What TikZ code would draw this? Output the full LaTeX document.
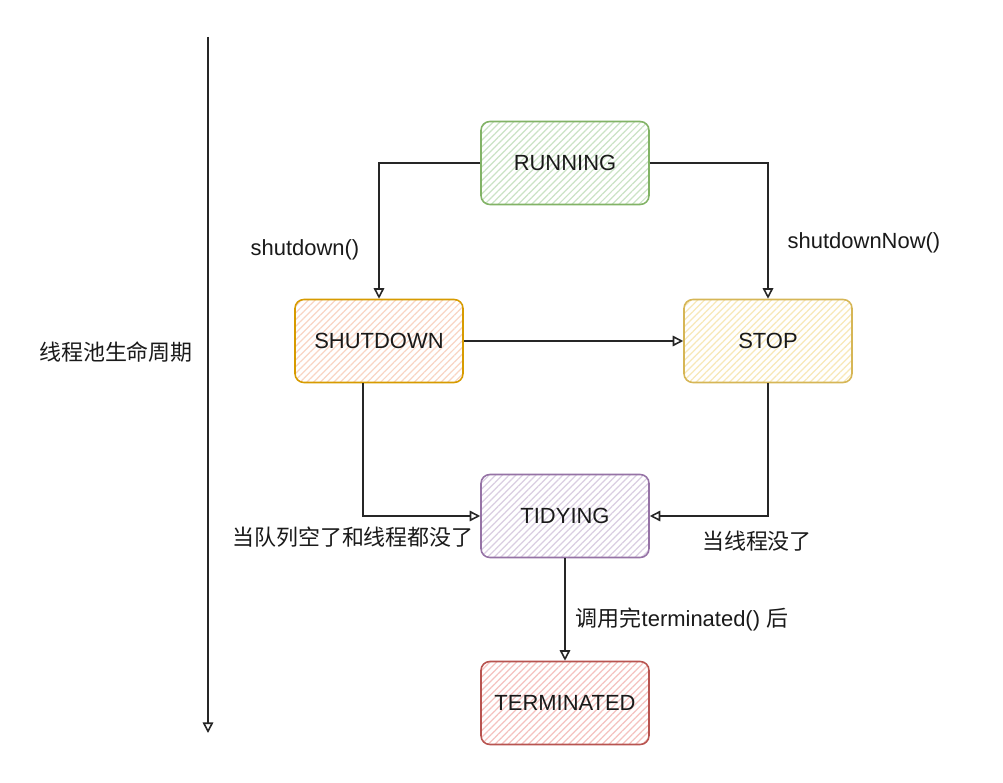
\documentclass[tikz,border=0pt]{standalone}
\usepackage{fontspec}
\setmainfont{Liberation Sans}
\newfontfamily\cjk{Noto Sans CJK SC}
\usetikzlibrary{arrows.meta,patterns.meta}
\definecolor{txt}{HTML}{1A1A1A}
\definecolor{wire}{HTML}{262626}
\definecolor{runline}{HTML}{82B366}
\definecolor{runhatch}{HTML}{CBE3C5}
\definecolor{shutline}{HTML}{D79B00}
\definecolor{shuthatch}{HTML}{F9D5C4}
\definecolor{stopline}{HTML}{D6B656}
\definecolor{stophatch}{HTML}{F8E8B8}
\definecolor{tidyline}{HTML}{9673A6}
\definecolor{tidyhatch}{HTML}{DACEE2}
\definecolor{termline}{HTML}{B85450}
\definecolor{termhatch}{HTML}{F5C2BF}

\begin{document}
\begin{tikzpicture}[x=0.02cm,y=-0.02cm,
  state/.style={shape=rectangle,rounded corners=5pt,line width=0.9pt,
    minimum width=3.36cm,minimum height=1.66cm,text=txt,
    font=\fontsize{12.5}{15}\selectfont,
    pattern={Lines[angle=45,distance=2.7pt,line width=0.7pt]}},
  flow/.style={draw=wire,line width=0.9pt,-{Triangle[open,length=6pt,width=6pt]}},
  lab/.style={text=txt,font=\fontsize{12.5}{15}\selectfont}]
\fill[white] (0,0) rectangle (1003,783);
\useasboundingbox (0,0) rectangle (1003,783);
\node[state,draw=runline,pattern color=runhatch] (R) at (565,163) {RUNNING};
\node[state,draw=shutline,pattern color=shuthatch] (S) at (379,341) {SHUTDOWN};
\node[state,draw=stopline,pattern color=stophatch] (P) at (768,341) {STOP};
\node[state,draw=tidyline,pattern color=tidyhatch] (T) at (565,516) {TIDYING};
\node[state,draw=termline,pattern color=termhatch] (X) at (565,703) {TERMINATED};
\coordinate (top) at (208,37);
\coordinate (bot) at (208,733);
\node[lab] (L) at (116,352) {\cjk 线程池生命周期};
\node[lab] (a) at (305,250) {shutdown()};
\node[lab] (b) at (864,243) {shutdownNow()};
\node[lab] (c) at (353,537) {\cjk 当队列空了和线程都没了};
\node[lab] (d) at (757,541) {\cjk 当线程没了};
\node[lab] (e) at (682,619) {{\cjk 调用完}terminated() {\cjk 后}};
\draw[flow] (top) -- (bot);
\draw[flow] (R.west) -| (S.north);
\draw[flow] (R.east) -| (P.north);
\draw[flow] (S.east) -- (P.west);
\draw[flow] ([xshift=-0.32cm]S.south) |- (T.west);
\draw[flow] (P.south) |- (T.east);
\draw[flow] (T.south) -- (X.north);
\end{tikzpicture}
\end{document}
